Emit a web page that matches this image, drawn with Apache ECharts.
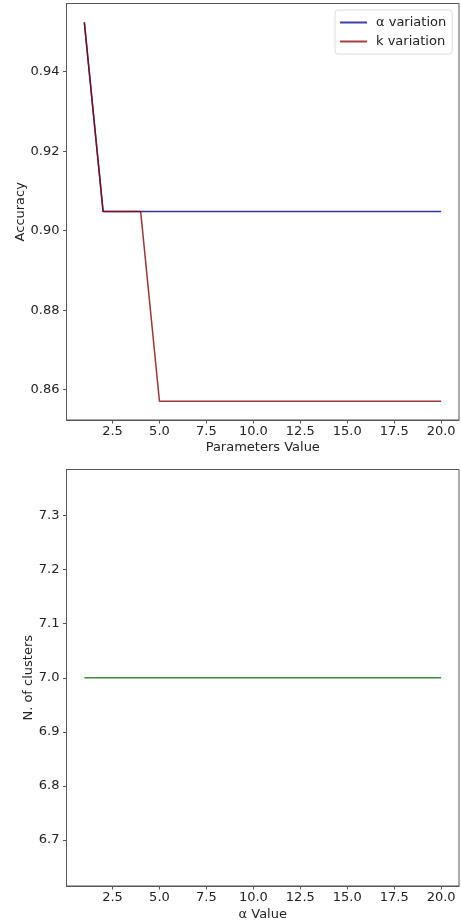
<!DOCTYPE html>
<html>
<head>
<meta charset="utf-8">
<script src="https://cdn.jsdelivr.net/npm/echarts@6/dist/echarts.min.js"></script>
<style>
  html, body { margin: 0; padding: 0; background: #fff; }
  #chart { width: 461px; height: 922px; }
</style>
</head>
<body>
<div id="chart"></div>
<script>
var paramValues = [1, 2, 3, 4, 5, 6, 7, 8, 9, 10, 11, 12, 13, 14, 15, 16, 17, 18, 19, 20];
var alphaAccuracy = [0.9524, 0.9048, 0.9048, 0.9048, 0.9048, 0.9048, 0.9048, 0.9048, 0.9048, 0.9048,
                     0.9048, 0.9048, 0.9048, 0.9048, 0.9048, 0.9048, 0.9048, 0.9048, 0.9048, 0.9048];
var kAccuracy = [0.9524, 0.9048, 0.9048, 0.9048, 0.8571, 0.8571, 0.8571, 0.8571, 0.8571, 0.8571,
                 0.8571, 0.8571, 0.8571, 0.8571, 0.8571, 0.8571, 0.8571, 0.8571, 0.8571, 0.8571];
var nClusters = [7, 7, 7, 7, 7, 7, 7, 7, 7, 7, 7, 7, 7, 7, 7, 7, 7, 7, 7, 7];
var xTicks = [2.5, 5, 7.5, 10, 12.5, 15, 17.5, 20];
var accTicks = [0.86, 0.88, 0.90, 0.92, 0.94];
var clusterTicks = [6.7, 6.8, 6.9, 7.0, 7.1, 7.2, 7.3];

function pairs(xs, ys) {
    return xs.map(function (x, i) { return [x, ys[i]]; });
}

var font = 'DejaVu Sans';
var axisColor = '#555';

function xAxisFor(gridIndex, name, gap) {
    return {
        type: 'value',
        gridIndex: gridIndex,
        min: 0.05,
        max: 20.95,
        name: name,
        nameLocation: 'middle',
        nameGap: gap,
        nameMoveOverlap: false,
        nameTextStyle: { fontFamily: font, fontSize: 13, color: '#222' },
        axisLine: { show: true, lineStyle: { color: axisColor, width: 1 } },
        axisTick: { show: true, length: 3.5, customValues: xTicks, lineStyle: { color: axisColor } },
        axisLabel: {
            customValues: xTicks, margin: 5,
            fontFamily: font, fontSize: 13, color: '#222',
            formatter: function (v) { return v.toFixed(1); }
        },
        splitLine: { show: false }
    };
}

function yAxisFor(gridIndex, name, min, max, ticks, digits, gap) {
    return {
        type: 'value',
        gridIndex: gridIndex,
        min: min,
        max: max,
        name: name,
        nameLocation: 'middle',
        nameGap: gap,
        nameMoveOverlap: false,
        nameTextStyle: { fontFamily: font, fontSize: 13, color: '#222' },
        axisLine: { show: true, lineStyle: { color: axisColor, width: 1 } },
        axisTick: { show: true, length: 3.5, customValues: ticks, lineStyle: { color: axisColor } },
        axisLabel: {
            customValues: ticks, margin: 7,
            fontFamily: font, fontSize: 13, color: '#222',
            formatter: function (v) { return v.toFixed(digits); }
        },
        splitLine: { show: false }
    };
}

var myChart = echarts.init(document.getElementById('chart'));

var option = {
    backgroundColor: '#fff',
    animation: false,
    legend: {
        left: 335,
        top: 10,
        orient: 'vertical',
        icon: 'rect',
        itemWidth: 27,
        itemHeight: 2,
        itemGap: 4,
        padding: [5, 6, 5, 5],
        backgroundColor: '#fff',
        borderColor: '#dcdcdc',
        borderWidth: 1,
        borderRadius: 3,
        textStyle: { fontFamily: font, fontSize: 13, color: '#222', lineHeight: 15, padding: [0, 0, 0, 4] },
        data: [
            { name: 'α variation', itemStyle: { color: '#00008b', opacity: 0.75 } },
            { name: 'k variation', itemStyle: { color: '#8b0000', opacity: 0.75 } }
        ]
    },
    grid: [
        { left: 66.5, top: 3.5, width: 392.5, height: 416.5, show: true, borderColor: axisColor, borderWidth: 1 },
        { left: 66.5, top: 469.5, width: 392.5, height: 417, show: true, borderColor: axisColor, borderWidth: 1 }
    ],
    xAxis: [
        xAxisFor(0, 'Parameters Value', 21),
        xAxisFor(1, 'α Value', 22)
    ],
    yAxis: [
        yAxisFor(0, 'Accuracy', 0.85238, 0.957143, accTicks, 2, 39),
        yAxisFor(1, 'N. of clusters', 6.615, 7.385, clusterTicks, 1, 31)
    ],
    series: [{
        name: 'α variation',
        type: 'line',
        xAxisIndex: 0,
        yAxisIndex: 0,
        symbol: 'none',
        color: '#00008b',
        lineStyle: { width: 1.5, opacity: 0.8 },
        data: pairs(paramValues, alphaAccuracy)
    }, {
        name: 'k variation',
        type: 'line',
        xAxisIndex: 0,
        yAxisIndex: 0,
        symbol: 'none',
        color: '#8b0000',
        lineStyle: { width: 1.5, opacity: 0.8 },
        data: pairs(paramValues, kAccuracy)
    }, {
        name: 'clusters',
        type: 'line',
        xAxisIndex: 1,
        yAxisIndex: 1,
        symbol: 'none',
        color: '#006400',
        lineStyle: { width: 1.5, opacity: 0.75 },
        data: pairs(paramValues, nClusters)
    }]
};

myChart.setOption(option);
</script>
</body>
</html>
